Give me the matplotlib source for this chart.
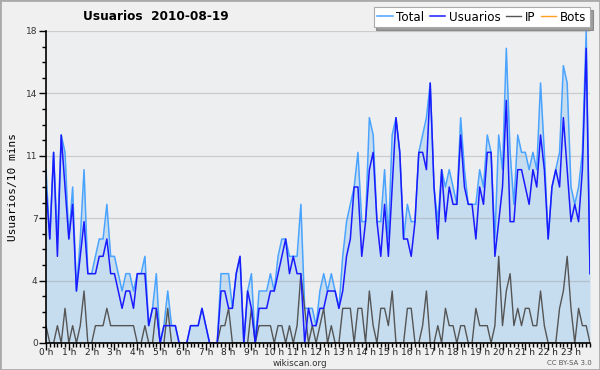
import numpy as np
import matplotlib
matplotlib.use("Agg")
import matplotlib.pyplot as plt
from matplotlib.ticker import MultipleLocator, FixedLocator
from matplotlib.patches import Rectangle

# 10-minute buckets, 144 per day
total = [10, 6, 11, 6, 12, 11,  6, 9, 3, 6, 10, 4,  4, 5, 6, 6, 8, 5,  5, 4, 3, 4, 4, 3,
         4, 4, 5, 1, 2, 4,  0, 1, 3, 1, 1, 0,  0, 0, 1, 1, 1, 2,  1, 0, 0, 0, 4, 4,
         4, 2, 4, 5, 0, 3,  4, 0, 3, 3, 3, 4,  3, 5, 6, 6, 5, 5,  5, 8, 2, 2, 2, 1,
         3, 4, 3, 4, 3, 2,  5, 7, 8, 9, 11, 7,  7, 13, 12, 7, 7, 10,  6, 12, 13, 11, 6, 8,
         7, 7, 11, 12, 13, 15,  9, 7, 10, 9, 10, 9,  8, 13, 10, 8, 8, 8,  10, 9, 12, 11, 6, 12,
         10, 17, 11, 8, 12, 11,  11, 10, 11, 10, 15, 11,  6, 9, 10, 11, 16, 15,  9, 8, 9, 11, 18, 4]
usuarios = [9, 6, 11, 5, 12, 9,  6, 8, 3, 5, 7, 4,  4, 4, 5, 5, 6, 4,  4, 3, 2, 3, 3, 2,
            4, 4, 4, 1, 2, 2,  0, 1, 1, 1, 1, 0,  0, 0, 1, 1, 1, 2,  1, 0, 0, 0, 3, 3,
            2, 2, 4, 5, 0, 3,  2, 0, 2, 2, 2, 3,  3, 4, 5, 6, 4, 5,  4, 4, 0, 2, 1, 1,
            2, 2, 3, 3, 3, 2,  3, 5, 6, 9, 9, 5,  7, 10, 11, 7, 5, 8,  5, 9, 13, 11, 6, 6,
            5, 7, 11, 11, 10, 15,  9, 6, 10, 7, 9, 8,  8, 12, 9, 8, 8, 6,  9, 8, 11, 11, 5, 7,
            9, 14, 7, 7, 10, 10,  9, 8, 10, 9, 12, 10,  6, 9, 10, 9, 13, 10,  7, 8, 7, 10, 17, 4]
ip = [1, 0, 0, 1, 0, 2,  0, 1, 0, 1, 3, 0,  0, 1, 1, 1, 2, 1,  1, 1, 1, 1, 1, 1,
      0, 0, 1, 0, 0, 2,  0, 0, 2, 0, 0, 0,  0, 0, 0, 0, 0, 0,  0, 0, 0, 0, 1, 1,
      2, 0, 0, 0, 0, 0,  2, 0, 1, 1, 1, 1,  0, 1, 1, 0, 1, 0,  1, 4, 2, 0, 1, 0,
      1, 2, 0, 1, 0, 0,  2, 2, 2, 0, 2, 2,  0, 3, 1, 0, 2, 2,  1, 3, 0, 0, 0, 2,
      2, 0, 0, 1, 3, 0,  0, 1, 0, 2, 1, 1,  0, 1, 1, 0, 0, 2,  1, 1, 1, 0, 1, 5,
      1, 3, 4, 1, 2, 1,  2, 2, 1, 1, 3, 1,  0, 0, 0, 2, 3, 5,  2, 0, 2, 1, 1, 0]
bots = [0] * 144

hour_labels = [f"{h} h" for h in range(24)]
ytick_vals = [0, 3.6, 7.2, 10.8, 14.4, 18]
ytick_labels = ["0", "4", "7", "11", "14", "18"]

x = np.arange(len(total))

fig = plt.figure(figsize=(6, 3.7), dpi=100, facecolor="#f0f0f0")
ax = fig.add_axes([46 / 600, 27 / 370, 544 / 600, 312 / 370])
ax.set_facecolor("#edeef0")

ax.fill_between(x, total, 0, color="#c6ddf0", lw=0, zorder=1)
for v in ytick_vals[1:]:
    ax.axhline(v, color="#999999", alpha=0.4, lw=0.9, zorder=1.5)

ax.plot(x, bots, color="#ffa020", lw=1, zorder=2, label="Bots")
ax.plot(x, total, color="#4aa3ff", lw=1.1, zorder=3, label="Total")
ax.plot(x, ip, color="#555555", lw=1, zorder=4, label="IP")
ax.plot(x, usuarios, color="#1a1aff", lw=1.1, zorder=5, label="Usuarios")

ax.set_xlim(0, 143)
ax.set_ylim(0, 18)

for s in ["top", "right"]:
    ax.spines[s].set_visible(False)
ax.spines["left"].set_linewidth(1.2)
ax.spines["bottom"].set_linewidth(1.2)
ax.spines["left"].set_zorder(6)
ax.spines["bottom"].set_zorder(6)

ax.xaxis.set_major_locator(FixedLocator(np.arange(0, 144, 6)))
ax.set_xticklabels(hour_labels)
ax.xaxis.set_minor_locator(MultipleLocator(1))
ax.yaxis.set_major_locator(FixedLocator(ytick_vals))
ax.set_yticklabels(ytick_labels)
ax.yaxis.set_minor_locator(MultipleLocator(0.9))
ax.tick_params(which="major", length=5, width=1, labelsize=6.5, colors="black")
ax.tick_params(which="minor", length=3, width=1)
ax.tick_params(axis="y", labelcolor="#333333", pad=1)
ax.tick_params(axis="x", labelcolor="#222222", pad=-1.5)

ax.set_ylabel("Usuarios/10 mins", family="DejaVu Sans Mono", fontsize=8)
ax.yaxis.set_label_coords(-0.052, 0.5)

fig.text(83 / 600, 1 - 17 / 370, "Usuarios  2010-08-19", fontsize=8.7,
         fontweight="bold", ha="left", va="center")

handles, labels = ax.get_legend_handles_labels()
order = [labels.index(n) for n in ["Total", "Usuarios", "IP", "Bots"]]
leg = fig.legend([handles[i] for i in order], [labels[i] for i in order],
                 loc="upper right", bbox_to_anchor=(590 / 600, 1 - 7 / 370),
                 ncol=4, fontsize=8.6, frameon=True, fancybox=False, shadow=True,
                 handlelength=1.3, handletextpad=0.3, columnspacing=0.45,
                 borderpad=0.3, borderaxespad=0)
leg.get_frame().set_edgecolor("#aaaaaa")
leg.get_frame().set_linewidth(0.8)

fig.text(0.5, 1 - 363 / 370, "wikiscan.org", fontsize=6.3, ha="center", va="center",
         color="#333333")
fig.text(592 / 600, 1 - 363 / 370, "CC BY-SA 3.0", fontsize=5, ha="right",
         va="center", color="#555555")

fig.patches.append(Rectangle((0, 0), 1, 1, transform=fig.transFigure, fill=False,
                             edgecolor="#aaaaaa", lw=2))

fig.savefig("out.png", dpi=100, facecolor=fig.get_facecolor())
